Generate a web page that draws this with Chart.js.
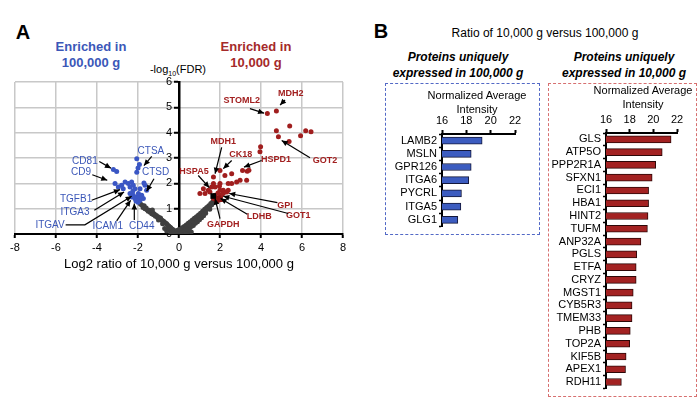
<!DOCTYPE html>
<html>
<head>
<meta charset="utf-8">
<script src="https://cdn.jsdelivr.net/npm/chart.js@4.4.1/dist/chart.umd.min.js"></script>
<style>
  body { margin: 0; width: 700px; height: 400px; background: #fff; position: relative; overflow: hidden;
         font-family: "Liberation Sans", Arial, sans-serif; color: #000; }
  .t { position: absolute; transform: translate(-50%, -50%); white-space: nowrap; text-align: center; }
  .box { position: absolute; box-sizing: border-box; }
  canvas { position: absolute; }
</style>
</head>
<body>
<div class="t" style="left:23px;top:32px;font-size:20px;font-weight:bold">A</div>
<div class="t" style="left:91px;top:55px;font-size:13px;font-weight:bold;line-height:15.6px;color:#3b57b8">Enriched in<br>100,000 g</div>
<div class="t" style="left:256px;top:55px;font-size:13px;font-weight:bold;line-height:15.6px;color:#a52a2a">Enriched in<br>10,000 g</div>
<div class="t" style="left:178px;top:70px;font-size:11px">-log<sub style="font-size:7px">10</sub>(FDR)</div>

<div class="t" style="left:381px;top:31px;font-size:20px;font-weight:bold">B</div>
<div class="t" style="left:545px;top:33px;font-size:12px">Ratio of 10,000 g versus 100,000 g</div>
<div class="t" style="left:458px;top:65px;font-size:12px;font-weight:bold;font-style:italic;line-height:15.5px">Proteins uniquely<br>expressed in 100,000 g</div>
<div class="t" style="left:624px;top:65px;font-size:12px;font-weight:bold;font-style:italic;line-height:15.5px">Proteins uniquely<br>expressed in 10,000 g</div>

<canvas id="volcano" width="360" height="220" style="left:0;top:60px"></canvas>
<div class="box" style="left:385px;top:83px;width:155px;height:152px;border:1px dashed #5369c6"></div>
<canvas id="uniq100" width="155" height="152" style="left:385px;top:83px"></canvas>
<div class="box" style="left:548px;top:83px;width:149px;height:314px;border:1px dashed #d77070"></div>
<canvas id="uniq10" width="149" height="314" style="left:548px;top:83px"></canvas>
<div class="t" style="left:477px;top:102px;font-size:11px;line-height:14px">Normalized Average<br>Intensity</div>
<div class="t" style="left:643px;top:97px;font-size:11px;line-height:13.5px">Normalized Average<br>Intensity</div>

<script>
// ---- panel A: volcano points [log2 ratio, -log10 FDR] ----
var grayPts = [
  [-1.88,1.18],[-1.82,1.14],[-1.75,1.05],[-1.7,1.12],[-1.66,1.0],[-1.6,1.03],[-1.55,0.95],[-1.5,0.9],
  [-1.45,0.94],[-1.41,0.86],[-1.38,0.9],[-1.33,0.8],[-1.28,0.84],[-1.24,0.76],[-1.2,0.79],[-1.15,0.7],
  [-1.1,0.73],[-1.05,0.65],[-1.0,0.67],[-0.95,0.6],[-0.9,0.63],[-0.85,0.55],[-0.8,0.52],[-0.75,0.5],
  [-0.7,0.46],[-0.65,0.42],[-0.6,0.4],[-0.55,0.35],[-0.5,0.32],[-0.45,0.28],[-0.4,0.25],[-0.35,0.2],
  [-0.3,0.18],[-0.25,0.14],[-0.2,0.1],[-0.15,0.08],[-0.1,0.05],[-1.3,0.95],[-1.0,0.55],[-0.8,0.4],
  [-0.6,0.12],[-0.5,0.2],[-0.4,0.06],[-0.3,0.1],[-0.2,0.03],[-0.1,0.14],[0.0,0.02],[0.05,0.1],
  [0.1,0.04],[0.2,0.07],[0.3,0.1],[0.4,0.05],[0.5,0.13],[0.6,0.08],[-0.7,0.22],[0.0,0.18],
  [0.1,0.15],[0.15,0.25],[0.2,0.2],[0.25,0.3],[0.3,0.22],[0.35,0.36],[0.4,0.3],[0.45,0.42],
  [0.5,0.36],[0.55,0.48],[0.6,0.41],[0.65,0.55],[0.7,0.5],[0.75,0.62],[0.8,0.56],[0.85,0.68],
  [0.9,0.62],[0.95,0.75],[1.0,0.7],[1.05,0.82],[1.1,0.78],[1.15,0.9],[1.2,0.86],[1.25,0.98],
  [1.3,0.93],[1.35,1.05],[1.4,1.0],[1.45,1.12],[1.5,1.08],[1.55,1.2],[1.6,1.15],[1.65,1.28],
  [1.7,1.24],[1.75,1.35],[0.5,0.22],[0.7,0.34],[0.9,0.48],[1.1,0.64],[0.3,0.12],[0.8,0.42],
  [1.0,0.56],[1.3,0.82],[0.4,0.18],[0.6,0.3],[1.2,0.72],[1.5,0.98]
];
var bluePts = [
  [-3.2,2.55],[-3.04,2.47],[-2.06,2.97],[-1.93,2.74],[-2.0,2.61],[-2.06,2.44],[-1.71,2.01],[-3.12,1.99],
  [-2.96,1.86],[-2.8,1.92],[-2.63,2.05],[-2.47,1.99],[-2.39,1.86],[-2.31,2.05],[-2.23,1.92],[-2.15,1.79],
  [-1.9,1.79],[-1.66,1.92],[-1.58,1.73],[-2.39,1.6],[-2.31,1.46],[-2.23,1.53],[-2.15,1.4],[-2.06,1.46],
  [-1.98,1.6],[-1.9,1.33],[-1.82,1.53],[-1.74,1.4],[-2.72,1.79],[-2.0,1.25],[-2.1,1.3],[-1.95,1.45],
  [-2.25,1.7]
];
var redPts = [
  [4.75,4.86],[4.31,4.76],[5.4,4.26],[4.75,4.08],[4.85,3.84],[5.37,3.65],[5.93,3.88],[6.18,4.08],
  [6.44,4.04],[3.98,3.44],[3.95,3.25],[3.1,2.51],[3.33,2.48],[3.41,2.52],[2.0,2.51],[1.68,2.25],
  [1.68,1.99],[1.76,1.86],[2.0,1.99],[2.0,1.73],[2.24,2.31],[2.57,2.38],[2.4,1.99],[2.57,1.99],
  [2.81,2.05],[2.98,2.12],[3.3,2.12],[1.51,1.66],[1.27,1.6],[1.02,1.6],[1.19,1.79],[1.43,1.73],
  [1.59,1.86],[2.16,1.73],[2.33,1.66],[2.4,1.73],[2.16,1.6],[2.0,1.46],[1.84,1.4],[1.92,1.33],
  [1.68,1.4],[1.76,1.53],[1.84,1.27],[2.08,1.55],[1.9,1.62],[1.97,1.88]
];
var markedPts = [[1.92,1.42],[2.02,1.36],[1.82,1.38]];   // GPI / GOT1 / LDHB
var gapdhPt = [[1.67,1.5]];

// callouts: text centre, arrow path (last point gets the head)
var blueCallouts = [
  { text: 'CTSA',  at: [-1.37,3.27], path: [[-1.33,3.06],[-1.71,2.7]] },
  { text: 'CD81',  at: [-4.59,2.86], path: [[-3.89,2.86],[-3.32,2.6]] },
  { text: 'CD9',   at: [-4.78,2.42], path: [[-4.23,2.34],[-3.5,2.12]] },
  { text: 'CTSD',  at: [-1.14,2.44], path: [[-1.22,2.18],[-1.58,1.69]] },
  { text: 'TGFB1', at: [-5.02,1.37], path: [[-4.26,1.33],[-2.88,1.75]] },
  { text: 'ITGA3', at: [-5.07,0.85], path: [[-4.13,0.94],[-2.68,1.66]] },
  { text: 'ITGAV', at: [-6.29,0.35], path: [[-5.53,0.36],[-4.59,0.36],[-2.31,1.49]] },
  { text: 'ICAM1', at: [-3.48,0.31], path: [[-3.04,0.52],[-2.36,1.33]] },
  { text: 'CD44',  at: [-1.82,0.31], path: [[-2.18,0.55],[-2.18,1.2]] }
];
var redCallouts = [
  { text: 'MDH2',   at: [5.45,5.56], path: [[5.17,5.29],[4.93,5.09]] },
  { text: 'STOML2', at: [3.06,5.28], path: [[3.46,4.95],[4.15,4.77]] },
  { text: 'GOT2',   at: [7.12,2.9],  path: [[6.39,3.01],[5.01,3.69]] },
  { text: 'HSPD1',  at: [4.73,2.94], path: [[4.03,2.9],[3.17,2.64]] },
  { text: 'CK18',   at: [3.01,3.12], path: [[2.57,2.9],[2.16,2.58]] },
  { text: 'MDH1',   at: [2.16,3.66], path: [[2.08,3.42],[1.76,2.38]] },
  { text: 'HSPA5',  at: [0.73,2.48], path: [[0.94,2.31],[1.48,1.83]] },
  { text: 'GPI',    at: [5.17,1.14], path: [[4.8,1.24],[2.45,1.6]] },
  { text: 'GOT1',   at: [5.82,0.72], path: [[5.33,0.81],[2.16,1.49]] },
  { text: 'LDHB',   at: [3.92,0.68], path: [[3.33,0.78],[2.03,1.4]] },
  { text: 'GAPDH',  at: [2.16,0.39], path: [[2.0,0.61],[1.76,1.4]] }
];

// ---- panel B: normalized average intensity ----
var genes100 = ['LAMB2','MSLN','GPR126','ITGA6','PYCRL','ITGA5','GLG1'];
var intensity100 = [19.3,18.4,18.4,18.2,17.6,17.55,17.3];
var genes10 = ['GLS','ATP5O','PPP2R1A','SFXN1','ECI1','HBA1','HINT2','TUFM','ANP32A','PGLS',
               'ETFA','CRYZ','MGST1','CYB5R3','TMEM33','PHB','TOP2A','KIF5B','APEX1','RDH11'];
var intensity10 = [21.5,20.75,20.2,19.9,19.6,19.6,19.55,19.5,18.95,18.6,
                   18.55,18.55,18.3,18.2,18.2,18.05,18.0,17.7,17.65,17.3];

var FONT = '"Liberation Sans", Arial, sans-serif';
Chart.defaults.font.family = FONT;
Chart.defaults.color = '#000';
Chart.defaults.animation = false;

function toXY(arr) { return arr.map(function (p) { return { x: p[0], y: p[1] }; }); }

function drawCallout(ctx, c, px, color, font) {
  ctx.fillStyle = color;
  ctx.font = font;
  ctx.textAlign = 'center';
  ctx.textBaseline = 'middle';
  var a = px(c.at);
  ctx.fillText(c.text, a[0], a[1]);
  var pts = c.path.map(px);
  ctx.strokeStyle = '#000';
  ctx.fillStyle = '#000';
  ctx.lineWidth = 1.2;
  ctx.beginPath();
  ctx.moveTo(pts[0][0], pts[0][1]);
  for (var i = 1; i < pts.length; i++) ctx.lineTo(pts[i][0], pts[i][1]);
  ctx.stroke();
  var e = pts[pts.length - 1], s = pts[pts.length - 2];
  var ang = Math.atan2(e[1] - s[1], e[0] - s[0]);
  ctx.beginPath();
  ctx.moveTo(e[0], e[1]);
  ctx.lineTo(e[0] - 6 * Math.cos(ang) + 2.8 * Math.sin(ang), e[1] - 6 * Math.sin(ang) - 2.8 * Math.cos(ang));
  ctx.lineTo(e[0] - 6 * Math.cos(ang) - 2.8 * Math.sin(ang), e[1] - 6 * Math.sin(ang) + 2.8 * Math.cos(ang));
  ctx.closePath();
  ctx.fill();
}

var calloutPlugin = {
  id: 'callouts',
  afterDatasetsDraw: function (chart) {
    var ctx = chart.ctx, xs = chart.scales.x, ys = chart.scales.y;
    var px = function (p) { return [xs.getPixelForValue(p[0]), ys.getPixelForValue(p[1])]; };
    ctx.save();
    blueCallouts.forEach(function (c) { drawCallout(ctx, c, px, '#3b57b8', '10px ' + FONT); });
    redCallouts.forEach(function (c) { drawCallout(ctx, c, px, '#a21f1f', 'bold 9px ' + FONT); });
    ctx.restore();
  }
};

new Chart(document.getElementById('volcano'), {
  type: 'scatter',
  data: {
    datasets: [
      { data: toXY(gapdhPt), pointStyle: 'rect', pointRadius: 4, backgroundColor: '#000', borderWidth: 0 },
      { data: toXY(markedPts), pointStyle: 'rect', pointRadius: 3.5, backgroundColor: '#8c1414', borderWidth: 0 },
      { data: toXY(bluePts), pointRadius: 2.5, backgroundColor: '#3a56c4', borderWidth: 0 },
      { data: toXY(redPts), pointRadius: 2.5, backgroundColor: '#a01e1e', borderWidth: 0 },
      { data: toXY(grayPts), pointRadius: 2.5, backgroundColor: '#404040', borderWidth: 0 }
    ]
  },
  options: {
    responsive: false,
    layout: { padding: { left: 15, right: 17, top: 22, bottom: 0 } },
    plugins: { legend: { display: false }, tooltip: { enabled: false } },
    scales: {
      x: {
        type: 'linear', position: 'bottom', min: -8, max: 8,
        ticks: { stepSize: 2, font: { size: 11 }, padding: 3 },
        grid: { color: '#c8c8c8', lineWidth: 1.5, tickColor: '#000', tickWidth: 2, tickLength: 4 },
        border: { color: '#000', width: 2 },
        title: { display: true, text: 'Log2 ratio of 10,000 g versus 100,000 g', font: { size: 13 }, padding: { top: 0, bottom: 8 } },
        afterFit: function (s) { s.height = 46; }
      },
      y: {
        type: 'linear', position: 'center', min: 0, max: 6,
        ticks: { stepSize: 1, font: { size: 11 }, padding: 3 },
        grid: { color: '#c8c8c8', lineWidth: 1.5, tickColor: '#000', tickWidth: 2, tickLength: 4 },
        border: { color: '#000', width: 2.5 }
      }
    }
  },
  plugins: [calloutPlugin]
});

function intensityChart(id, genes, values, fill, edge, yWidth, pad) {
  new Chart(document.getElementById(id), {
    type: 'bar',
    data: {
      labels: genes,
      datasets: [{ data: values, backgroundColor: fill, borderColor: edge, borderWidth: 1, barThickness: 7, borderSkipped: false }]
    },
    options: {
      responsive: false,
      indexAxis: 'y',
      layout: { padding: pad },
      plugins: { legend: { display: false }, tooltip: { enabled: false } },
      scales: {
        x: {
          position: 'top', min: 16, max: 22,
          ticks: { stepSize: 2, font: { size: 11 }, padding: 2 },
          grid: { drawOnChartArea: false, tickColor: '#000', tickWidth: 2, tickLength: 4 },
          border: { color: '#000', width: 2 },
          afterFit: function (s) { s.height = 50; }
        },
        y: {
          ticks: { font: { size: 11 }, padding: 2, autoSkip: false },
          grid: { drawOnChartArea: false, tickColor: '#000', tickWidth: 1.5, tickLength: 3 },
          border: { color: '#000', width: 2 },
          afterFit: function (s) { s.width = yWidth; }
        }
      }
    }
  });
}

intensityChart('uniq100', genes100, intensity100, '#3c5cc0', '#14183a', 57, { left: 0, right: 25, top: 1, bottom: 7 });
intensityChart('uniq10', genes10, intensity10, '#a32222', '#2e0808', 58, { left: 0, right: 20, top: 0, bottom: 3 });
</script>
</body>
</html>
